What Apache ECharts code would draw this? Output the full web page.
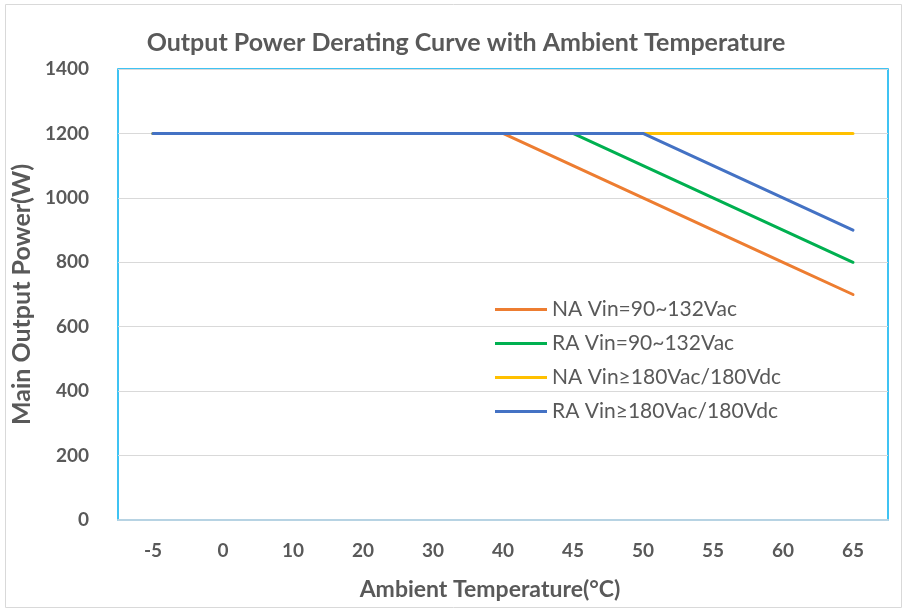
<!DOCTYPE html>
<html><head><meta charset="utf-8">
<script src="https://cdn.jsdelivr.net/npm/echarts@6/dist/echarts.min.js"></script>
<style>html,body{margin:0;padding:0;background:#fff}#c{width:906px;height:610px}</style>
</head><body><div id="c"></div>
<script>
const categories = ['-5','0','10','20','30','40','45','50','55','60','65'];
const naLow  = [1200,1200,1200,1200,1200,1200,1100,1000,900,800,700];
const raLow  = [1200,1200,1200,1200,1200,1200,1200,1100,1000,900,800];
const naHigh = [1200,1200,1200,1200,1200,1200,1200,1200,1200,1200,1200];
const raHigh = [1200,1200,1200,1200,1200,1200,1200,1200,1100,1000,900];
const seriesNames = ['NA Vin=90~132Vac','RA Vin=90~132Vac','NA Vin≥180Vac/180Vdc','RA Vin≥180Vac/180Vdc'];
const colors = ['#ED7D31','#00B050','#FFC000','#4472C4'];
const values = [naLow, raLow, naHigh, raHigh];

const chart = echarts.init(document.getElementById('c'), null, {renderer:'canvas'});
const font = 'Lato, "Open Sans", sans-serif';
chart.setOption({
  animation:false,
  color: colors,
  title:{text:'Output Power Derating Curve with Ambient Temperature', left:461, top:25, textAlign:'center',
    textStyle:{fontFamily:font, fontWeight:'bold', fontSize:25, color:'#595959'}},
  graphic:[{type:'rect', shape:{x:5.5,y:4.5,width:896,height:603}, style:{fill:'none', stroke:'#d9d9d9', lineWidth:1}, z:-1}],
  grid:{left:118, right:18, top:69, bottom:90, show:true, borderColor:'#00B0F0', borderWidth:1.5},
  legend:{orient:'vertical', left:490, top:294, itemWidth:52, itemHeight:3, itemGap:13,
    icon:'rect', textStyle:{fontFamily:font, fontSize:21, color:'#595959'}},
  xAxis:{type:'category', data:categories, boundaryGap:true,
    name:'Ambient Temperature(°C)', nameLocation:'middle', nameGap:58,
    nameTextStyle:{fontFamily:font, fontWeight:'bold', fontSize:23, color:'#595959', padding:[0,26,0,0]},
    axisLine:{lineStyle:{color:'#b7d3e3', width:2}}, axisTick:{show:false},
    axisLabel:{margin:21, fontFamily:font, fontWeight:'bold', fontSize:19, color:'#595959'}},
  yAxis:{type:'value', min:0, max:1400, interval:200,
    name:'Main Output Power(W)', nameLocation:'middle', nameGap:76,
    nameTextStyle:{fontFamily:font, fontWeight:'bold', fontSize:25, color:'#595959'},
    axisLine:{show:false}, axisTick:{show:false},
    splitLine:{lineStyle:{color:'#d9d9d9', width:1}},
    axisLabel:{margin:29, fontFamily:font, fontWeight:'bold', fontSize:19, color:'#595959',
      formatter:v=>String(v)}},
  series: values.map((v,i)=>({name:seriesNames[i], type:'line', data:v, symbol:'none',
    lineStyle:{width:3, color:colors[i], cap:'round'}, itemStyle:{color:colors[i]}}))
});
</script></body></html>
